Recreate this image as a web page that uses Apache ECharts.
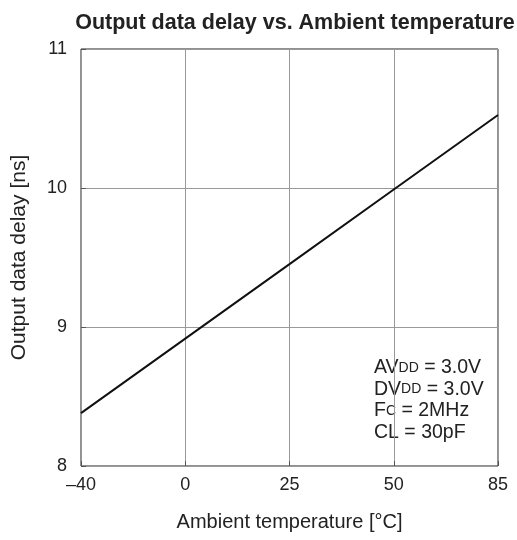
<!DOCTYPE html>
<html>
<head>
<meta charset="utf-8">
<script src="https://cdn.jsdelivr.net/npm/echarts@6/dist/echarts.min.js"></script>
<style>html,body{margin:0;padding:0;background:#fff;}#c{width:517px;height:540px;}</style>
</head>
<body>
<div id="c"></div>
<script>
var categories = ['\u201340', '0', '25', '50', '85'];
var delayValues = [8.38, 8.916, 9.452, 9.989, 10.525];
var yTicks = [8, 9, 10, 11];

var chart = echarts.init(document.getElementById('c'), null, {renderer: 'canvas'});
var font = 'Liberation Sans, Arial, sans-serif';
chart.setOption({
  animation: false,
  backgroundColor: '#fff',
  title: {
    text: 'Output data delay vs. Ambient temperature',
    left: 290, top: 7, textAlign: 'center',
    textStyle: {fontFamily: font, fontSize: 21.5, fontWeight: 'bold', color: '#222'}
  },
  grid: {left: 81, right: 19, top: 49, bottom: 74, show: true, borderColor: '#222', borderWidth: 1, containLabel: false},
  xAxis: {
    type: 'category', data: categories, boundaryGap: false,
    name: 'Ambient temperature [\u00b0C]', nameLocation: 'middle', nameGap: 46,
    nameTextStyle: {fontFamily: font, fontSize: 20, color: '#222'},
    axisLine: {show: false},
    axisTick: {show: true, inside: true, length: 5, lineStyle: {color: '#555'}},
    axisLabel: {fontFamily: font, fontSize: 18, color: '#222', margin: 10},
    splitLine: {show: true, lineStyle: {color: '#999', width: 1}}
  },
  yAxis: {
    type: 'value', min: 8, max: 11, interval: 1,
    name: 'Output data delay [ns]', nameLocation: 'middle', nameGap: 51,
    nameTextStyle: {fontFamily: font, fontSize: 21, color: '#222'},
    axisLine: {show: false},
    axisTick: {show: true, inside: true, length: 5, lineStyle: {color: '#555'}},
    axisLabel: {fontFamily: font, fontSize: 18, color: '#222', margin: 14,
      formatter: function (v) { return yTicks.indexOf(v) >= 0 ? String(v) : ''; }},
    splitLine: {show: true, lineStyle: {color: '#999', width: 1}}
  },
  series: [{
    type: 'line', data: delayValues, symbol: 'none',
    lineStyle: {color: '#111', width: 2}
  }],
  graphic: [{
    type: 'text', left: 374, top: 357,
    style: {
      text: 'AV{s|DD} = 3.0V\nDV{s|DD} = 3.0V\nF{s|C} = 2MHz\nCL = 30pF',
      fontFamily: font, fontSize: 19.5, fill: '#222', lineHeight: 21.5,
      rich: {s: {fontFamily: font, fontSize: 14, fill: '#222', lineHeight: 21.5}}
    }
  }]
});
</script>
</body>
</html>
